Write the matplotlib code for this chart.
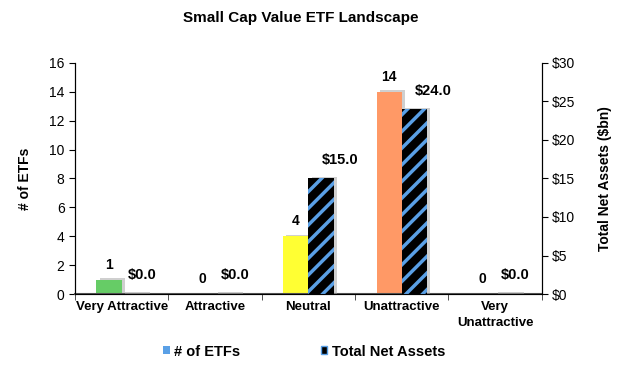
import numpy as np
import matplotlib
matplotlib.use("Agg")
import matplotlib.pyplot as plt
from matplotlib.patches import Patch

plt.rcParams['font.family'] = ['Liberation Sans', 'DejaVu Sans']
plt.rcParams['hatch.linewidth'] = 2.5

# data
categories = ["Very Attractive", "Attractive", "Neutral", "Unattractive", "Very\nUnattractive"]
num_etfs = [1, 0, 4, 14, 0]
net_assets = [0.0, 0.0, 15.0, 24.0, 0.0]
bar_colors = ["#66CC66", "#66CC66", "#FFFF33", "#FF9966", "#FF9966"]
stripe = "#5AA0E6"

fig = plt.figure(figsize=(6.3, 3.68), dpi=100)
ax = fig.add_axes([0.119, 0.201, 0.741, 0.628])
ax2 = ax.twinx()

x = np.arange(len(categories))
w = 0.27
shadow = "#A8A8A8"

# grey drop shadows behind the bars
ax.bar(x - w / 2 + 0.035, np.array(num_etfs) + 0.1, w, color=shadow, alpha=0.55, zorder=1)
ax2.bar(x + w / 2 + 0.035, np.array(net_assets) + 0.2, w, color=shadow, alpha=0.55, zorder=1)

ax.bar(x - w / 2, num_etfs, w, color=bar_colors, zorder=2)
ax2.bar(x + w / 2, net_assets, w, color="black", hatch="//", edgecolor=stripe, linewidth=0, zorder=2)

for i in range(len(categories)):
    ax.text(x[i] - w / 2, num_etfs[i] + 0.55, str(num_etfs[i]), ha="center", va="bottom",
            fontsize=10, fontweight="bold")
    dx = 0.2 if net_assets[i] > 0 else 0.08
    ax2.text(x[i] + w / 2 + dx, net_assets[i] + 1.5, "${:.1f}".format(net_assets[i]), ha="center",
             va="bottom", fontsize=10.5, fontweight="bold")

ax.set_xlim(-0.5, len(categories) - 0.5)
ax.set_ylim(0, 16)
ax.set_yticks(range(0, 17, 2))
ax2.set_ylim(0, 30)
ax2.set_yticks(range(0, 31, 5))
ax2.set_yticklabels(["$" + str(v) for v in range(0, 31, 5)])

ax.set_xticks(x)
ax.set_xticklabels(categories, fontsize=9.5, fontweight="bold", linespacing=1.5)
ax.tick_params(axis="x", length=0, pad=5)
ax.set_xticks(np.arange(-0.5, len(categories), 1), minor=True)
ax.tick_params(axis="x", which="minor", length=4, direction="out", color="#333333")
ax.tick_params(axis="y", labelsize=10, direction="out", length=4)
ax2.tick_params(axis="y", labelsize=10, direction="out", length=4)

for a in (ax, ax2):
    a.spines["top"].set_visible(False)
ax.spines["bottom"].set_color("#555555")
ax.spines["bottom"].set_linewidth(1.5)

ax.set_ylabel("# of ETFs", fontsize=10, fontweight="bold", labelpad=12)
ax2.set_ylabel("Total Net Assets ($bn)", fontsize=10, fontweight="bold", labelpad=16)
fig.text(0.478, 0.95, "Small Cap Value ETF Landscape", ha="center", va="center",
         fontsize=11, fontweight="bold")

handles = [Patch(facecolor=stripe, label="# of ETFs"),
           Patch(facecolor="black", hatch="//", edgecolor=stripe, label="Total Net Assets")]
fig.legend(handles=handles, loc="lower center", bbox_to_anchor=(0.483, -0.01), ncol=2,
           frameon=False, handlelength=0.45, handleheight=0.45, handletextpad=0.3,
           columnspacing=5.5, prop={"weight": "bold", "size": 10.5})

plt.savefig("out.png", dpi=100)
